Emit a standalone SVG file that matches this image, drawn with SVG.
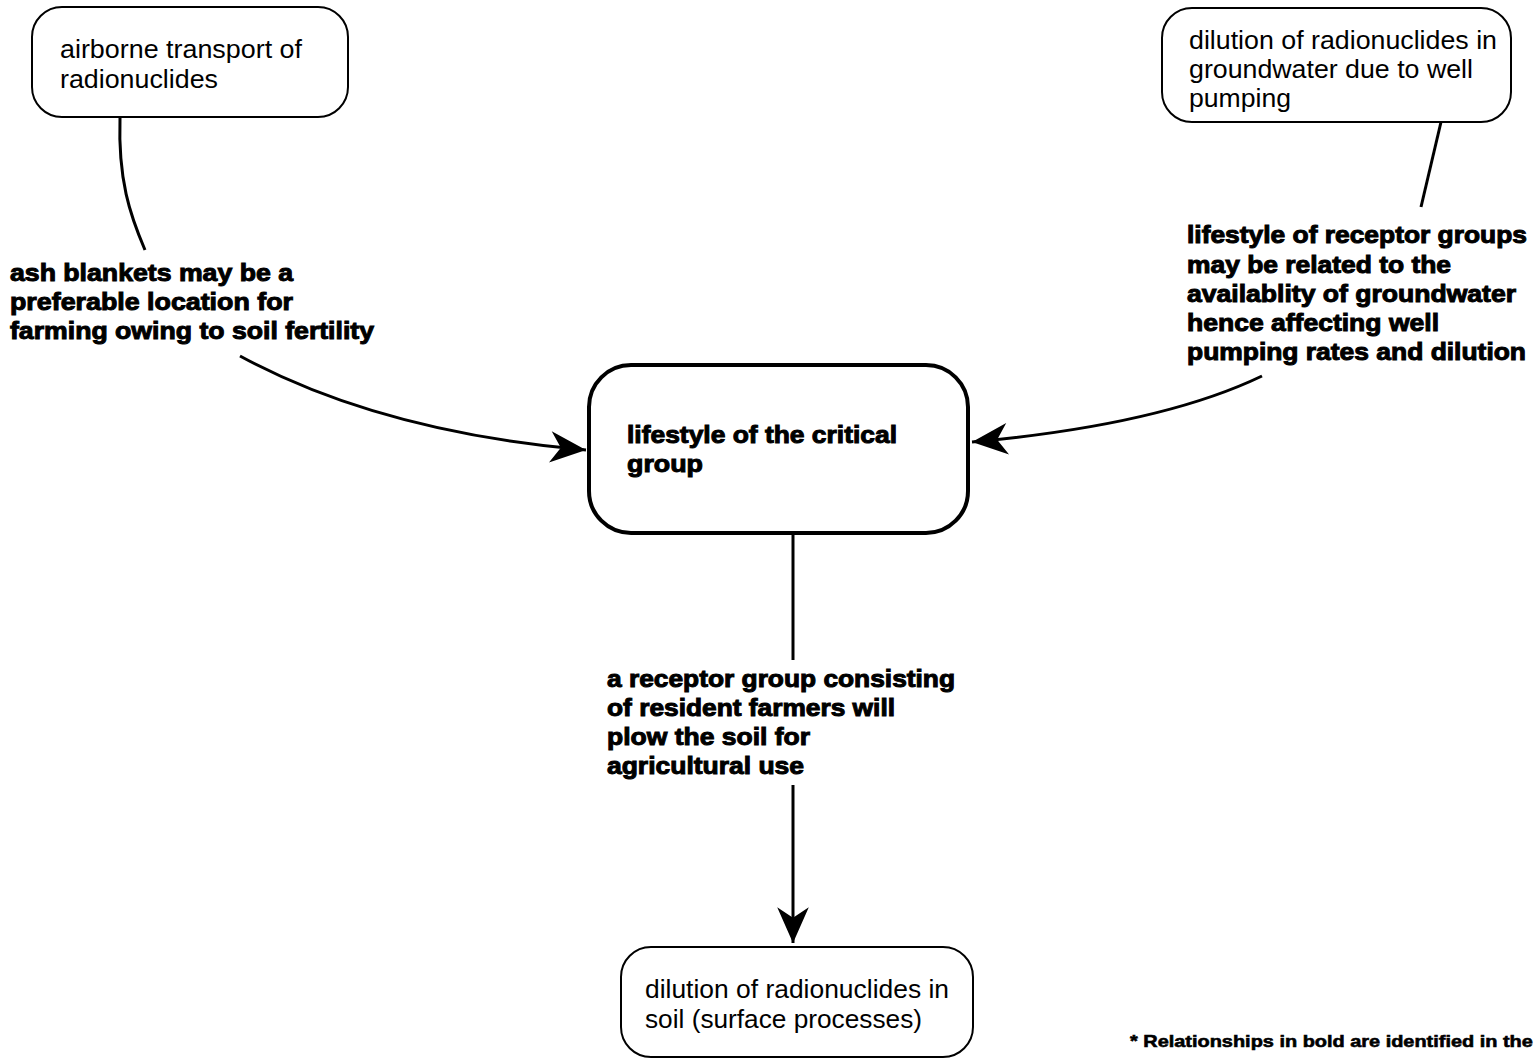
<svg xmlns="http://www.w3.org/2000/svg" width="1535" height="1059" viewBox="0 0 1535 1059">
<style>
.node{fill:#fff;stroke:#000;stroke-width:2}
.main{fill:#fff;stroke:#000;stroke-width:4}
.t{font-family:"Liberation Sans",Arial,sans-serif;font-size:26px;fill:#000}
.b{font-family:"Liberation Sans",Arial,sans-serif;font-size:24px;font-weight:bold;fill:#000;stroke:#000;stroke-width:1}
.c{fill:none;stroke:#000;stroke-width:3}
</style>
<defs>
<marker id="ah" markerUnits="userSpaceOnUse" markerWidth="40" markerHeight="40" viewBox="-36 -18 38 36" refX="0" refY="0" orient="auto">
<path d="M0,0 L-34,-15 L-24,0 L-34,15 Z" fill="#000"/>
</marker>
</defs>
<rect width="1535" height="1059" fill="#fff"/>
<g id="connectors">
<path class="c" d="M120,118 C118,180 130,215 145,250"/>
<path class="c" d="M240,356 Q380,432 586,450" marker-end="url(#ah)"/>
<path class="c" d="M1441,122 L1421,207"/>
<path class="c" d="M1262,376 Q1160,425 972,442" marker-end="url(#ah)"/>
<path class="c" d="M793,533 L793,660"/>
<path class="c" d="M793,785 L793,943" marker-end="url(#ah)"/>
</g>
<g id="n-airborne">
<rect class="node" x="32" y="7" width="316" height="110" rx="30"/>
<text class="t" x="60" y="58" textLength="242" lengthAdjust="spacingAndGlyphs">airborne transport of</text>
<text class="t" x="60" y="88" textLength="158" lengthAdjust="spacingAndGlyphs">radionuclides</text>
</g>
<g id="n-groundwater">
<rect class="node" x="1162" y="8" width="349" height="114" rx="30"/>
<text class="t" x="1189" y="49" textLength="308" lengthAdjust="spacingAndGlyphs">dilution of radionuclides in</text>
<text class="t" x="1189" y="78" textLength="284" lengthAdjust="spacingAndGlyphs">groundwater due to well</text>
<text class="t" x="1189" y="107" textLength="102" lengthAdjust="spacingAndGlyphs">pumping</text>
</g>
<g id="n-lifestyle">
<rect class="main" x="589" y="365" width="379" height="168" rx="42"/>
<text class="b" x="627" y="443" textLength="270" lengthAdjust="spacingAndGlyphs">lifestyle of the critical</text>
<text class="b" x="627" y="472" textLength="76" lengthAdjust="spacingAndGlyphs">group</text>
</g>
<g id="n-soil">
<rect class="node" x="621" y="947" width="352" height="110" rx="30"/>
<text class="t" x="645" y="998" textLength="304" lengthAdjust="spacingAndGlyphs">dilution of radionuclides in</text>
<text class="t" x="645" y="1028" textLength="277" lengthAdjust="spacingAndGlyphs">soil (surface processes)</text>
</g>
<g id="labels">
<text class="b" x="10" y="281" textLength="283" lengthAdjust="spacingAndGlyphs">ash blankets may be a</text>
<text class="b" x="10" y="310" textLength="283" lengthAdjust="spacingAndGlyphs">preferable location for</text>
<text class="b" x="10" y="339" textLength="364" lengthAdjust="spacingAndGlyphs">farming owing to soil fertility</text>
<text class="b" x="1187" y="243" textLength="340" lengthAdjust="spacingAndGlyphs">lifestyle of receptor groups</text>
<text class="b" x="1187" y="273" textLength="264" lengthAdjust="spacingAndGlyphs">may be related to the</text>
<text class="b" x="1187" y="302" textLength="329" lengthAdjust="spacingAndGlyphs">availablity of groundwater</text>
<text class="b" x="1187" y="331" textLength="252" lengthAdjust="spacingAndGlyphs">hence affecting well</text>
<text class="b" x="1187" y="360" textLength="339" lengthAdjust="spacingAndGlyphs">pumping rates and dilution</text>
<text class="b" x="607" y="687" textLength="348" lengthAdjust="spacingAndGlyphs">a receptor group consisting</text>
<text class="b" x="607" y="716" textLength="288" lengthAdjust="spacingAndGlyphs">of resident farmers will</text>
<text class="b" x="607" y="745" textLength="203" lengthAdjust="spacingAndGlyphs">plow the soil for</text>
<text class="b" x="607" y="774" textLength="197" lengthAdjust="spacingAndGlyphs">agricultural use</text>
<text class="b" style="font-size:17px;stroke-width:0.6" x="1130" y="1047" textLength="415" lengthAdjust="spacingAndGlyphs">* Relationships in bold are identified in the f</text>
</g>
</svg>
